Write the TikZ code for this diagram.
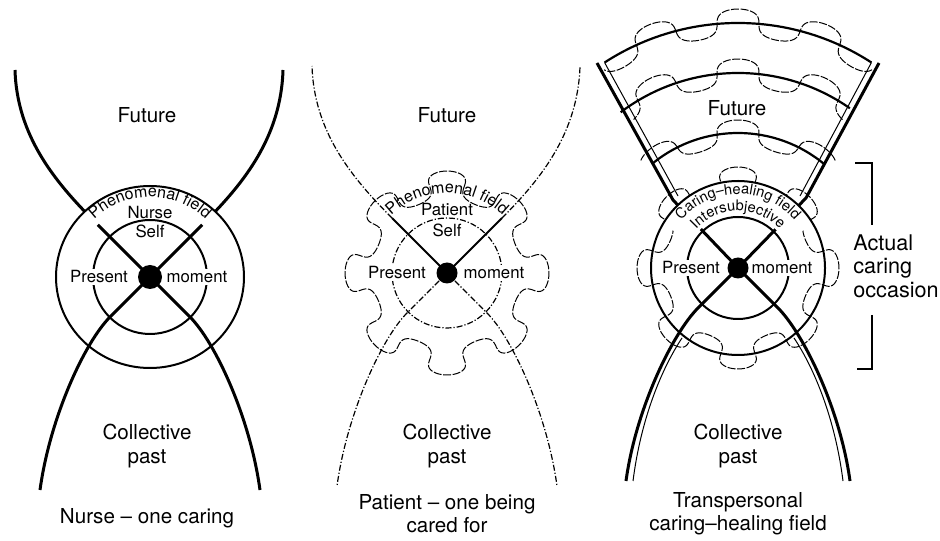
\documentclass[tikz,border=0pt]{standalone}
\usepackage{fontspec}
\setmainfont{TeX Gyre Heros}
\usetikzlibrary{decorations.text}
\newcommand\arcfont{\fontsize{8}{8}\selectfont}
\newcommand\arcfontsm{\fontsize{7.3}{7.3}\selectfont}

\begin{document}
\begin{tikzpicture}[x=0.5pt,y=0.5pt,
  big/.style={font=\fontsize{10.3}{11.6}\selectfont,align=center,inner sep=0pt},
  small/.style={font=\fontsize{8.4}{9}\selectfont,inner sep=1pt},
  blank/.style={small,fill=white},
  arm/.style={line width=1.5pt},
  ring/.style={line width=1pt},
  thinline/.style={line width=0.5pt},
  broken/.style={line width=0.6pt,dash pattern=on 3pt off 1pt on 0.6pt off 1pt},
  wave/.style={line width=0.5pt,dash pattern=on 4pt off 0.8pt},
  dot/.style={circle,fill,inner sep=0pt,minimum size=#1},
  dot/.default=11pt]
\useasboundingbox (0,0) rectangle (940,540);
\begin{scope}[shift={(150,263)}]
\draw[arm] (0,0) -- (-55,55) .. controls (-95,95) and (-133,141) .. (-135,207);
\draw[arm] (0,0) -- (55,55) .. controls (95,95) and (131,141) .. (133,207);
\draw[arm] (0,0) -- (-40,-40) .. controls (-65,-65) and (-100,-140) .. (-110,-213);
\draw[arm] (0,0) -- (40,-40) .. controls (65,-65) and (100,-140) .. (110,-213);
\fill[white] (35:74) arc[start angle=35,end angle=145,radius=74] -- (145:92) arc[start angle=145,end angle=35,radius=92] -- cycle;
\draw[ring] (0,0) circle[x radius=94,y radius=91];
\draw[ring] (0,0) circle[radius=57];
\path[decorate,decoration={text along path,text align=center,text={|\arcfont|Phenomenal field}}] (145:80) arc[start angle=145,end angle=35,radius=80];
\node[small] (nurse) at (0,64) {Nurse};
\node[small] (self1) at (0,46) {Self};
\node[blank] (pres1) at (-51,0) {Present};
\node[blank] (mom1) at (47,0) {moment};
\node[dot=12pt] (d1) at (0,0) {};
\end{scope}
\begin{scope}[shift={(447,267)}]
\draw[wave] plot[domain=0:2880,samples=361,variable=\t] ({90+(\t-90-34*sin(2*\t))/8}:{88+14*sin(\t)}) -- cycle;
\draw[line width=0.9pt] (0,0) -- (-55,55);
\draw[line width=0.9pt] (0,0) -- (55,55);
\draw[broken] (-55,55) .. controls (-95,95) and (-133,141) .. (-135,207);
\draw[broken] (55,55) .. controls (95,95) and (131,141) .. (133,207);
\draw[broken] (0,0) -- (-40,-40) .. controls (-65,-65) and (-100,-140) .. (-110,-213);
\draw[broken] (0,0) -- (40,-40) .. controls (65,-65) and (100,-140) .. (110,-213);
\draw[broken] (0,0) circle[radius=55];
\path[decorate,decoration={text along path,text align=center,text={|\arcfont|Phenomenal field}}] (145:80) arc[start angle=145,end angle=35,radius=80];
\node[small] (pat) at (0,63) {Patient};
\node[small] (self2) at (0,43) {Self};
\node[blank] (pres2) at (-50,0) {Present};
\node[blank] (mom2) at (47,0) {moment};
\node[dot=10.5pt] (d2) at (0,0) {};
\end{scope}
\begin{scope}[shift={(738,272)}]
\draw[wave] plot[domain=0:2880,samples=361,variable=\t] ({90+(\t-90-34*sin(2*\t))/8}:{87+14*sin(\t)}) -- cycle;
\draw[line width=1.1pt] (123:245) arc[start angle=123,end angle=57,radius=245];
\draw[line width=1.1pt] (127:195) arc[start angle=127,end angle=55,radius=195];
\draw[line width=1.1pt] (129:135) arc[start angle=129,end angle=50,radius=135];
\draw[wave] plot[domain=-516:696,samples=170,variable=\t] ({90+(\t-90-26*sin(2*\t))*19.6/360}:{245+14*sin(\t)});
\draw[wave] plot[domain=-435:615,samples=150,variable=\t] ({90+(\t-90-26*sin(2*\t))*24.7/360}:{195+14*sin(\t)});
\draw[wave] plot[domain=-310:490,samples=120,variable=\t] ({90+(\t-90-26*sin(2*\t))*35.6/360}:{135+13*sin(\t)});
\draw[arm] (0,0) -- (-65,68) -- (-141,205);
\draw[arm] (0,0) -- (68,70) -- (141,205);
\draw[arm] (0,0) -- (-40,-40) .. controls (-65,-65) and (-102,-140) .. (-112,-213);
\draw[arm] (0,0) -- (40,-40) .. controls (65,-65) and (102,-140) .. (112,-213);
\draw[thinline] (-60,72) -- (123:245);
\draw[thinline] (62,72) -- (57:245);
\draw[thinline] (-56,-70) .. controls (-76,-100) and (-97,-150) .. (-105,-213);
\draw[thinline] (56,-70) .. controls (76,-100) and (97,-150) .. (105,-213);
\fill[white] (30:54) arc[start angle=30,end angle=150,radius=54] -- (150:87) arc[start angle=150,end angle=30,radius=87] -- cycle;
\draw[ring] (0,0) circle[radius=87];
\draw[ring] (0,0) circle[radius=51];
\path[decorate,decoration={text along path,text align=center,text={|\arcfontsm|Caring–healing field}}] (157:74) arc[start angle=157,end angle=23,radius=74];
\path[decorate,decoration={text along path,text align=center,text={|\arcfontsm|Intersubjective}}] (150:57) arc[start angle=150,end angle=30,radius=57];
\node[blank] (pres3) at (-47,0) {Present};
\node[blank] (mom3) at (44,0) {moment};
\node[dot=10.5pt] (d3) at (0,0) {};
\end{scope}
\node[big] (fut1) at (147,425) {Future};
\node[big] (fut2) at (447,425) {Future};
\node[big] (fut3) at (737,432) {Future};
\node[big] (past1) at (147,94) {Collective\\past};
\node[big] (past2) at (447,94) {Collective\\past};
\node[big] (past3) at (738,94) {Collective\\past};
\node[big] (cap1) at (147,22) {Nurse – one caring};
\node[big] (cap2) at (447,26) {Patient – one being\\cared for};
\node[big] (cap3) at (738,26) {Transpersonal\\caring–healing field};
\node[anchor=west,align=left,font=\fontsize{10.8}{11.8}\selectfont,inner sep=0pt] (occ) at (853,274) {Actual\\caring\\occasion};
\draw[line width=0.8pt] (855,377) -- (872,377) -- (872,315);
\draw[line width=0.8pt] (872,225) -- (872,171) -- (857,171);
\end{tikzpicture}
\end{document}
